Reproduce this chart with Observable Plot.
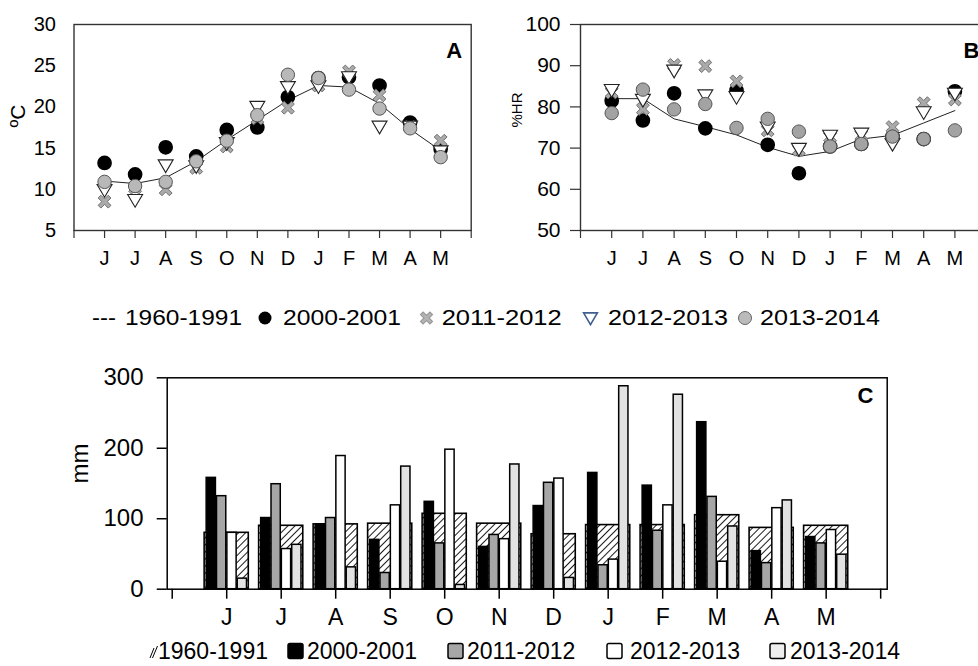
<!DOCTYPE html>
<html>
<head>
<meta charset="utf-8">
<script src="https://cdn.jsdelivr.net/npm/d3@7"></script>
<script src="https://cdn.jsdelivr.net/npm/@observablehq/plot@0.6"></script>
<style>
  html, body { margin: 0; padding: 0; background: #fff; }
  #root { position: relative; width: 978px; height: 666px; overflow: hidden; background: #fff; font-family: "Liberation Sans", Arial, sans-serif; }
  .abs { position: absolute; }
</style>
</head>
<body>
<svg width="0" height="0" style="position:absolute">
  <defs>
    <pattern id="hatch" patternUnits="userSpaceOnUse" width="5" height="5" patternTransform="rotate(45)">
      <rect width="5" height="5" fill="#fff"></rect>
      <line x1="0" y1="0" x2="0" y2="5" stroke="#000" stroke-width="1.8"></line>
    </pattern>
  </defs>
</svg>
<div id="root"></div>
<script>
// ---------- data ----------
const months = ["J","J","A","S","O","N","D","J","F","M","A","M"];
const seriesNames = ["1960-1991","2000-2001","2011-2012","2012-2013","2013-2014"];

// Panel A: temperature (ºC)
const tMean = [11.0, 10.7, 11.4, 13.4, 16.0, 18.4, 20.8, 22.6, 22.4, 20.4, 17.3, 14.7];
const t2000 = [13.2, 11.8, 15.1, 14.0, 17.2, 17.5, 21.2, 23.5, 23.6, 22.6, 18.1, 14.9];
const t2011 = [8.5, 10.2, 10.0, 12.6, 15.2, 18.6, 19.9, 22.6, 24.3, 21.4, 17.6, 15.9];
const t2012 = [9.9, 8.7, 12.9, 12.8, 15.6, 20.0, 22.4, 22.5, 23.6, 17.6, 17.6, 14.6];
const t2013 = [10.9, 10.4, 10.9, 13.4, 15.9, 19.0, 23.9, 23.5, 22.1, 19.8, 17.4, 13.9];

// Panel B: relative humidity (%HR)
const hMean = [82.0, 82.0, 77.1, 75.2, 73.2, 70.2, 68.0, 69.2, 72.2, 73.1, 76.1, 79.1];
const h2000 = [81.5, 76.7, 83.3, 74.8, 84.0, 70.8, 63.9, 70.4, 71.0, 72.8, 72.2, 83.8];
const h2011 = [83.5, 79.5, 90.2, 89.9, 86.2, 74.3, 69.6, 72.7, 73.1, 75.1, 80.9, 81.8];
const h2012 = [84.1, 81.7, 88.8, 82.8, 82.4, 75.0, 69.8, 73.0, 73.5, 71.0, 78.7, 83.2];
const h2013 = [78.5, 84.2, 79.4, 80.7, 74.9, 77.1, 74.0, 70.4, 71.0, 72.8, 72.2, 74.3];

// Panel C: precipitation (mm)
const p1960 = [80, 90, 92, 93, 107, 93, 78, 91, 91, 105, 87, 90];
const p2000 = [158, 101, 92, 70, 124, 60, 118, 165, 147, 237, 54, 74];
const p2011 = [132, 149, 101, 23, 65, 77, 151, 34, 83, 131, 37, 65];
const p2012 = [80, 57, 189, 119, 198, 71, 157, 42, 119, 39, 115, 84];
const p2013 = [15, 63, 31, 174, 6, 177, 16, 288, 276, 89, 126, 49];

// ---------- helpers ----------
const rows = (arr) => arr.map((v, k) => ({i: k + 1, value: v}));
const monthTick = (i) => months[i - 1] ?? "";

const triDown = {
  draw(ctx, size) {
    const r = Math.sqrt(size / Math.PI);
    const w = r * 1.15, h1 = r * 0.85, h2 = r * 1.1;
    ctx.moveTo(-w, -h1); ctx.lineTo(w, -h1); ctx.lineTo(0, h2); ctx.closePath();
  }
};
const xSym = {
  draw(ctx, size) {
    const r = Math.sqrt(size / Math.PI);
    const L = r * 1.1, t = r * 0.3;
    const pts = [[t,-L],[t,-t],[L,-t],[L,t],[t,t],[t,L],[-t,L],[-t,t],[-L,t],[-L,-t],[-t,-t],[-t,-L]]
      .map(([x, y]) => [(x - y) / Math.SQRT2, (x + y) / Math.SQRT2]);
    ctx.moveTo(pts[0][0], pts[0][1]);
    for (let j = 1; j < pts.length; j++) ctx.lineTo(pts[j][0], pts[j][1]);
    ctx.closePath();
  }
};

const baseStyle = {fontFamily: "'Liberation Sans', Arial, sans-serif", color: "#000", background: "transparent", overflow: "visible"};

function place(node, left, top, width) {
  const d = document.createElement("div");
  d.className = "abs";
  d.style.left = left + "px"; d.style.top = top + "px"; d.style.width = width + "px";
  d.appendChild(node);
  document.getElementById("root").appendChild(d);
}

function scatterPanel({mean, s2000, s2011, s2012, s2013, domain, ticks, width, ml, mr, ylab, ylabSize, ylabDx, letter, letterDx, letterAnchor, yTickSize, yTickPad, yFont, grayFill}) {
  return Plot.plot({
    width, height: 270, marginLeft: ml, marginRight: mr, marginTop: 24, marginBottom: 40,
    style: {...baseStyle, fontSize: "20px"},
    x: {domain: [0, 13], label: null},
    y: {domain, label: null},
    marks: [
      Plot.frame({stroke: "#333", strokeWidth: 1.4}),
      Plot.axisX({ticks: d3.range(14), tickFormat: monthTick, tickSize: 8, tickPadding: 12.7, label: null, fontSize: 20, stroke: "#333", strokeWidth: 1.2}),
      Plot.axisY({ticks, tickSize: yTickSize, tickPadding: yTickPad, label: null, fontSize: yFont, stroke: "#333", strokeWidth: 1.2}),
      Plot.line(rows(mean), {x: "i", y: "value", stroke: "#222", strokeWidth: 1}),
      Plot.dot(rows(s2000), {x: "i", y: "value", r: 6.6, fill: "#000", stroke: "#000"}),
      Plot.dot(rows(s2011), {x: "i", y: "value", symbol: xSym, r: 6.5, fill: "#aaa", stroke: "#666", strokeWidth: 0.9}),
      Plot.dot(rows(s2012), {x: "i", y: "value", symbol: triDown, r: 6.5, fill: "#fff", stroke: "#222", strokeWidth: 1.1}),
      Plot.dot(rows(s2013), {x: "i", y: "value", r: 6.7, fill: grayFill, stroke: "#555", strokeWidth: 1}),
      Plot.text([ylab], {text: d => d, frameAnchor: "left", dx: ylabDx, rotate: -90, fontSize: ylabSize}),
      Plot.text([letter], {text: d => d, frameAnchor: "top-right", dx: letterDx, dy: 26, lineAnchor: "middle", textAnchor: letterAnchor, fontWeight: "bold", fontSize: 22})
    ]
  });
}

// ---------- Panel A ----------
place(scatterPanel({
  mean: tMean, s2000: t2000, s2011: t2011, s2012: t2012, s2013: t2013,
  domain: [5, 30], ticks: [5, 10, 15, 20, 25, 30], width: 480, ml: 73.5, mr: 9.3,
  ylab: "ºC", ylabSize: 21, ylabDx: -56, letter: "A", letterDx: -9, letterAnchor: "end",
  yTickSize: 0, yTickPad: 18, yFont: 20, grayFill: "#b8b8b8"
}), 0, 0, 480);

// ---------- Panel B ----------
place(scatterPanel({
  mean: hMean, s2000: h2000, s2011: h2011, s2012: h2012, s2013: h2013,
  domain: [50, 100], ticks: [50, 60, 70, 80, 90, 100], width: 500, ml: 90, mr: 4.4,
  ylab: "%HR", ylabSize: 15, ylabDx: -63, letter: "B", letterDx: -22.6, letterAnchor: "start",
  yTickSize: 10, yTickPad: 10, yFont: 21, grayFill: "#a3a3a3"
}), 490, 0, 500);

// ---------- Panel C ----------
const slot = 0.19, bw = 0.17;
const barRows = (arr, k) => arr.map((v, j) => ({i: j + 1, value: v, k}));
const barX1 = d => d.i + (d.k - 2) * slot + 0.012;
const barX2 = d => barX1(d) + bw;
const barColors = ["#000", "#a6a6a6", "#fff", "#e2e2e2"];
const plotC = Plot.plot({
  width: 840, height: 280, marginLeft: 106.7, marginRight: 13.3, marginTop: 27.3, marginBottom: 41.3,
  style: {...baseStyle, fontSize: "23px"},
  x: {domain: [-0.092, 13.12], label: null},
  y: {domain: [0, 300], label: null},
  marks: [
    Plot.rect(rows(p1960), {x1: d => d.i - 0.405, x2: d => d.i + 0.405, y1: 0, y2: "value", fill: "url(#hatch)", stroke: "#000", strokeWidth: 1.6}),
    ...[p2000, p2011, p2012, p2013].map((arr, k) =>
      Plot.rect(barRows(arr, k), {x1: barX1, x2: barX2, y1: 0, y2: "value", fill: barColors[k], stroke: "#000", strokeWidth: 1.5})),
    Plot.frame({stroke: "#000", strokeWidth: 1.5}),
    Plot.axisX({ticks: d3.range(14), tickFormat: monthTick, tickSize: 10, tickPadding: 9.3, label: null, fontSize: 23, strokeWidth: 1.5}),
    Plot.axisY({ticks: [0, 100, 200, 300], tickSize: 10, tickPadding: 13.7, label: null, fontSize: 24, strokeWidth: 1.5}),
    Plot.text(["mm"], {text: d => d, frameAnchor: "left", dx: -86.7, rotate: -90, fontSize: 24}),
    Plot.text(["C"], {text: d => d, frameAnchor: "top-right", dx: -13.7, dy: 18, lineAnchor: "middle", fontWeight: "bold", fontSize: 22})
  ]
});
place(plotC, 60, 350, 840);

// ---------- Legend 1 (panels A & B) ----------
(function () {
  const svg = d3.create("svg").attr("width", 978).attr("height", 45)
    .style("font-family", "'Liberation Sans', Arial, sans-serif").style("font-size", "21.5px");
  const cy = 23;
  const txt = (x, s, len) => svg.append("text").attr("x", x).attr("y", cy).attr("dominant-baseline", "central")
    .attr("textLength", len).attr("lengthAdjust", "spacingAndGlyphs").text(s);
  txt(92, "---", 24);
  txt(125, seriesNames[0], 117);
  svg.append("circle").attr("cx", 265).attr("cy", cy).attr("r", 6.5).attr("fill", "#000");
  txt(283, seriesNames[1], 118);
  svg.append("path").attr("transform", `translate(426.5,${cy})`).attr("d", d3.symbol(xSym, Math.PI * 36)())
    .attr("fill", "#b4b4b4").attr("stroke", "#9a9a9a").attr("stroke-width", 1.2);
  txt(441.7, seriesNames[2], 120);
  svg.append("path").attr("transform", `translate(590.5,${cy})`).attr("d", d3.symbol(triDown, Math.PI * 36)())
    .attr("fill", "#fff").attr("stroke", "#3f5f8f").attr("stroke-width", 1.6);
  txt(608, seriesNames[3], 120);
  svg.append("circle").attr("cx", 745).attr("cy", cy).attr("r", 6.5).attr("fill", "#bbb").attr("stroke", "#666");
  txt(760, seriesNames[4], 120);
  place(svg.node(), 0, 295, 978);
})();

// ---------- Legend 2 (panel C) ----------
(function () {
  const svg = d3.create("svg").attr("width", 978).attr("height", 36)
    .style("font-family", "'Liberation Sans', Arial, sans-serif").style("font-size", "23px");
  const cy = 21;
  const txt = (x, s) => svg.append("text").attr("x", x).attr("y", cy).attr("dominant-baseline", "central").text(s);
  svg.append("path").attr("d", `M150,${cy+7} L154,${cy-3} M152.5,${cy+7} L157.5,${cy-5}`)
    .attr("stroke", "#000").attr("stroke-width", 1).attr("fill", "none");
  txt(158, seriesNames[0]);
  const fills = ["#000", "#a6a6a6", "#fff", "#eeeeee"];
  const boxX = [288, 448, 607, 770];
  const textX = [307, 467, 630, 790];
  fills.forEach((f, k) => {
    svg.append("rect").attr("x", boxX[k]).attr("y", cy - 7.5).attr("width", 15).attr("height", 15).attr("rx", 2)
      .attr("fill", f).attr("stroke", "#000").attr("stroke-width", 1.5);
    txt(textX[k], seriesNames[k + 1]);
  });
  place(svg.node(), 0, 630, 978);
})();
</script>
</body>
</html>
